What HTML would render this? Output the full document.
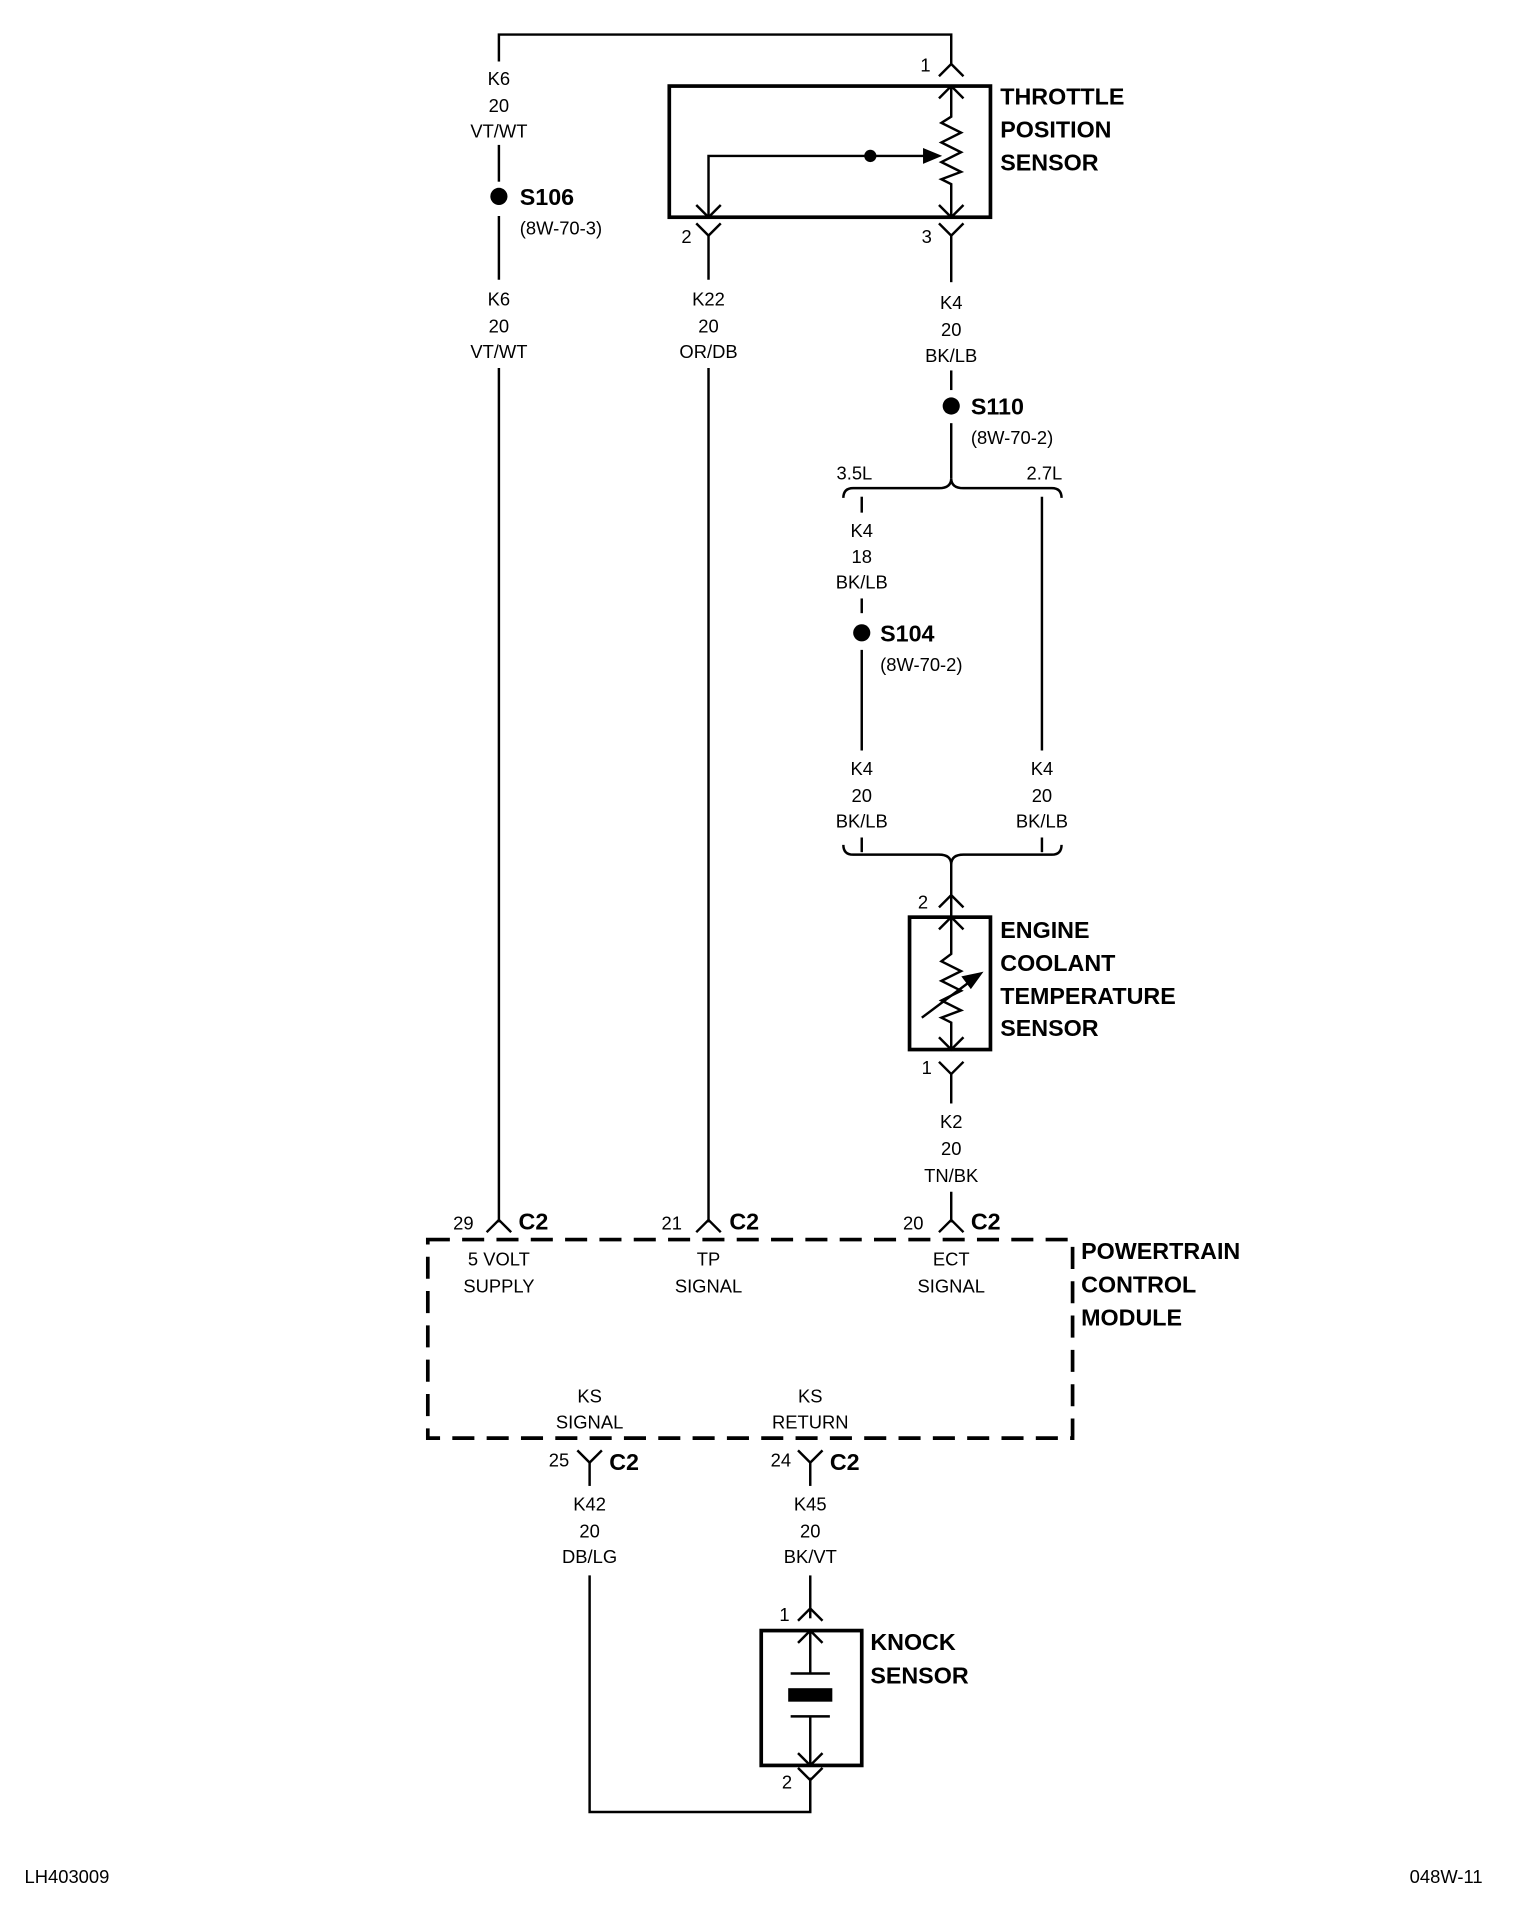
<!DOCTYPE html>
<html><head><meta charset="utf-8"><style>
html,body{margin:0;padding:0;background:#fff}
svg{display:block}
text{font-family:"Liberation Sans",Arial,sans-serif;fill:#000}
.w{font-size:15px;text-anchor:middle}
.b{font-size:19px;font-weight:bold}
.s{font-size:15px}
</style></head><body>
<svg width="1520" height="1914" viewBox="0 0 1240 1561" xmlns="http://www.w3.org/2000/svg">
<g stroke="#000" stroke-width="2" fill="none">
<polyline points="407,50 407,28 776,28 776,52"/>
<line x1="407" y1="118" x2="407" y2="148"/>
<line x1="407" y1="176" x2="407" y2="228"/>
<line x1="407" y1="300" x2="407" y2="997"/>
<polyline points="766,62 776,52 786,62"/>
<rect x="546" y="70" width="262" height="107" stroke-width="3"/>
<polyline points="766,80 776,70 786,80"/>
<polyline points="776,70 776,95 768,100 784,108 768,116 784,124 768,132 784,140 768,146 776,150 776,177"/>
<polyline points="766,167 776,177 786,167"/>
<polyline points="578,177 578,127 760,127"/>
<polygon points="766,127 754,122 754,132" fill="#000"/>
<polyline points="568,167 578,177 588,167"/>
<polyline points="568,182 578,192 588,182"/>
<line x1="578" y1="192" x2="578" y2="228"/>
<line x1="578" y1="300" x2="578" y2="997"/>
<polyline points="766,182 776,192 786,182"/>
<line x1="776" y1="192" x2="776" y2="230"/>
<line x1="776" y1="302" x2="776" y2="318"/>
<line x1="776" y1="345" x2="776" y2="390"/>
<path d="M688,406 Q688,398 696,398 L766,398 Q776,398 776,390 Q776,398 786,398 L858,398 Q866,398 866,406"/>
<line x1="703" y1="405" x2="703" y2="418"/>
<line x1="703" y1="488" x2="703" y2="500"/>
<line x1="703" y1="530" x2="703" y2="612"/>
<line x1="703" y1="683" x2="703" y2="695"/>
<line x1="850" y1="405" x2="850" y2="612"/>
<line x1="850" y1="683" x2="850" y2="695"/>
<path d="M688,689 Q688,697 696,697 L766,697 Q776,697 776,705 Q776,697 786,697 L858,697 Q866,697 866,689"/>
<line x1="776" y1="705" x2="776" y2="748"/>
<polyline points="766,740 776,730 786,740"/>
<rect x="742" y="748" width="66" height="108" stroke-width="3"/>
<polyline points="766,758 776,748 786,758"/>
<polyline points="776,748 776,778 768,784 784,792 768,800 784,808 768,816 784,824 768,830 776,834 776,856"/>
<polyline points="766,846 776,856 786,846"/>
<line x1="752" y1="830" x2="796" y2="797"/>
<polygon points="800,794 786,797 792,805" fill="#000"/>
<polyline points="766,866 776,876 786,866"/>
<line x1="776" y1="876" x2="776" y2="900"/>
<line x1="776" y1="972" x2="776" y2="997"/>
<polyline points="397,1005 407,995 417,1005"/>
<polyline points="568,1005 578,995 588,1005"/>
<polyline points="766,1005 776,995 786,1005"/>
<rect x="349" y="1011" width="526" height="162" stroke-width="3" stroke-dasharray="18,10"/>
<polyline points="471,1183 481,1193 491,1183"/>
<line x1="481" y1="1193" x2="481" y2="1212"/>
<polyline points="651,1183 661,1193 671,1183"/>
<line x1="661" y1="1193" x2="661" y2="1212"/>
<polyline points="481,1285 481,1478 661,1478 661,1450"/>
<line x1="661" y1="1285" x2="661" y2="1320"/>
<polyline points="651,1322 661,1312 671,1322"/>
<rect x="621" y="1330" width="82" height="110" stroke-width="3"/>
<polyline points="651,1340 661,1330 671,1340"/>
<line x1="661" y1="1330" x2="661" y2="1365"/>
<line x1="645" y1="1365" x2="677" y2="1365"/>
<line x1="645" y1="1400" x2="677" y2="1400"/>
<line x1="661" y1="1400" x2="661" y2="1440"/>
<polyline points="651,1430 661,1440 671,1430"/>
<polyline points="651,1442 661,1452 671,1442"/>
<line x1="661" y1="1452" x2="661" y2="1478"/>
</g>
<rect x="643" y="1377" width="36" height="11" fill="#000"/>
<circle cx="710" cy="127" r="5" fill="#000"/>
<circle cx="407" cy="160" r="7" fill="#000"/>
<circle cx="776" cy="331" r="7" fill="#000"/>
<circle cx="703" cy="516" r="7" fill="#000"/>

<g class="w">
<text x="407" y="69">K6</text><text x="407" y="91">20</text><text x="407" y="112">VT/WT</text>
<text x="407" y="249">K6</text><text x="407" y="271">20</text><text x="407" y="292">VT/WT</text>
<text x="578" y="249">K22</text><text x="578" y="271">20</text><text x="578" y="292">OR/DB</text>
<text x="776" y="252">K4</text><text x="776" y="274">20</text><text x="776" y="295">BK/LB</text>
<text x="703" y="438">K4</text><text x="703" y="459">18</text><text x="703" y="480">BK/LB</text>
<text x="703" y="632">K4</text><text x="703" y="654">20</text><text x="703" y="675">BK/LB</text>
<text x="850" y="632">K4</text><text x="850" y="654">20</text><text x="850" y="675">BK/LB</text>
<text x="776" y="920">K2</text><text x="776" y="942">20</text><text x="776" y="964">TN/BK</text>
<text x="407" y="1032">5 VOLT</text><text x="407" y="1054">SUPPLY</text>
<text x="578" y="1032">TP</text><text x="578" y="1054">SIGNAL</text>
<text x="776" y="1032">ECT</text><text x="776" y="1054">SIGNAL</text>
<text x="481" y="1144">KS</text><text x="481" y="1165">SIGNAL</text>
<text x="661" y="1144">KS</text><text x="661" y="1165">RETURN</text>
<text x="481" y="1232">K42</text><text x="481" y="1254">20</text><text x="481" y="1275">DB/LG</text>
<text x="661" y="1232">K45</text><text x="661" y="1254">20</text><text x="661" y="1275">BK/VT</text>
<text x="697" y="391">3.5L</text><text x="852" y="391">2.7L</text>
<text x="755" y="58">1</text><text x="560" y="198">2</text><text x="756" y="198">3</text>
<text x="753" y="741">2</text><text x="756" y="876">1</text>
<text x="378" y="1003">29</text><text x="548" y="1003">21</text><text x="745" y="1003">20</text>
<text x="456" y="1196">25</text><text x="637" y="1196">24</text>
<text x="640" y="1322">1</text><text x="642" y="1459">2</text>
</g>
<g class="s">
<text x="424" y="191">(8W-70-3)</text>
<text x="792" y="362">(8W-70-2)</text>
<text x="718" y="547">(8W-70-2)</text>
<text x="20" y="1536">LH403009</text>
<text x="1150" y="1536">048W-11</text>
</g>
<g class="b">
<text x="816" y="85">THROTTLE</text><text x="816" y="112">POSITION</text><text x="816" y="139">SENSOR</text>
<text x="424" y="167">S106</text>
<text x="792" y="338">S110</text>
<text x="718" y="523">S104</text>
<text x="816" y="765">ENGINE</text><text x="816" y="792">COOLANT</text><text x="816" y="819">TEMPERATURE</text><text x="816" y="845">SENSOR</text>
<text x="423" y="1003">C2</text><text x="595" y="1003">C2</text><text x="792" y="1003">C2</text>
<text x="882" y="1027">POWERTRAIN</text><text x="882" y="1054">CONTROL</text><text x="882" y="1081">MODULE</text>
<text x="497" y="1199">C2</text><text x="677" y="1199">C2</text>
<text x="710" y="1346">KNOCK</text><text x="710" y="1373">SENSOR</text>
</g>
</svg>
</body></html>
